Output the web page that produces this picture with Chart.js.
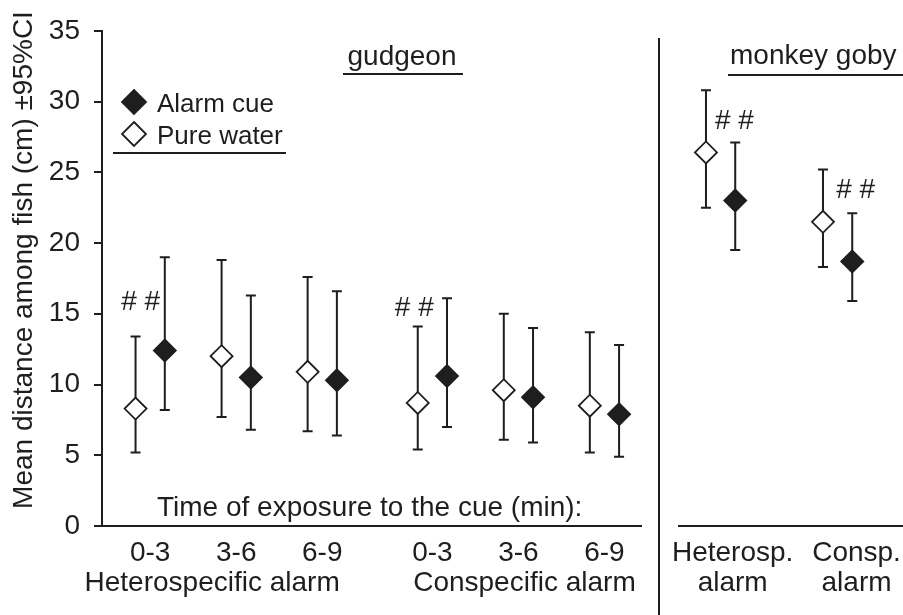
<!DOCTYPE html>
<html>
<head>
<meta charset="utf-8">
<script src="https://cdn.jsdelivr.net/npm/chart.js@4.4.1/dist/chart.umd.min.js"></script>
<style>
  html, body { margin: 0; padding: 0; background: #fff; }
  #wrap { width: 903px; height: 615px; position: relative; }
</style>
</head>
<body>
<div id="wrap"><canvas id="fishChart"></canvas></div>
<script>
// values (cm, mean and 95% CI)
const tickLabels = ['0-3', '3-6', '6-9', '0-3', '3-6', '6-9', 'Heterosp.', 'Consp.'];
const groupLabels = ['Heterospecific alarm', 'Conspecific alarm', 'alarm', 'alarm'];

const alarmMean = [12.4, 10.5, 10.3, 10.6, 9.1, 7.9, 23.0, 18.7];
const alarmLow = [8.2, 6.8, 6.4, 7.0, 5.9, 4.9, 19.5, 15.9];
const alarmHigh = [19.0, 16.3, 16.6, 16.1, 14.0, 12.8, 27.1, 22.1];

const pureMean = [8.3, 12.0, 10.9, 8.7, 9.6, 8.5, 26.4, 21.5];
const pureLow = [5.2, 7.7, 6.7, 5.4, 6.1, 5.2, 22.5, 18.3];
const pureHigh = [13.4, 18.8, 17.6, 14.1, 15.0, 13.7, 30.8, 25.2];

// positions of groups / labels on the x scale
const groupX = [1, 2, 3, 4.28, 5.28, 6.28, 7.63, 8.99];
const tickX = [1, 2, 3, 4.28, 5.28, 6.28, 7.77, 9.21];
const groupLabelX = [1.72, 5.35, 7.77, 9.21];
const pairOffset = 0.17;

const INK = '#1e1e1e';
const FONT = '"Liberation Sans", Arial, Helvetica, sans-serif';

const errorBars = {
  id: 'errorBars',
  beforeDatasetsDraw(chart) {
    const ctx = chart.ctx;
    const xs = chart.scales.x;
    const ys = chart.scales.y;
    const series = [
      { lo: pureLow, hi: pureHigh, off: -pairOffset },
      { lo: alarmLow, hi: alarmHigh, off: pairOffset },
    ];
    ctx.save();
    ctx.strokeStyle = INK;
    ctx.lineWidth = 2;
    series.forEach(s => {
      groupX.forEach((g, i) => {
        const px = xs.getPixelForValue(g + s.off);
        const top = ys.getPixelForValue(s.hi[i]);
        const bot = ys.getPixelForValue(s.lo[i]);
        ctx.beginPath();
        ctx.moveTo(px, top);
        ctx.lineTo(px, bot);
        ctx.moveTo(px - 5, top);
        ctx.lineTo(px + 5, top);
        ctx.moveTo(px - 5, bot);
        ctx.lineTo(px + 5, bot);
        ctx.stroke();
      });
    });
    ctx.restore();
  }
};

function diamond(ctx, x, y, r, filled) {
  ctx.beginPath();
  ctx.moveTo(x, y - r);
  ctx.lineTo(x + r, y);
  ctx.lineTo(x, y + r);
  ctx.lineTo(x - r, y);
  ctx.closePath();
  ctx.fillStyle = filled ? INK : '#fff';
  ctx.fill();
  ctx.lineWidth = 1.8;
  ctx.strokeStyle = INK;
  ctx.stroke();
}

const decorations = {
  id: 'decorations',
  afterDraw(chart) {
    const ctx = chart.ctx;
    const xs = chart.scales.x;
    const ys = chart.scales.y;
    const bottom = chart.chartArea.bottom;
    ctx.save();
    ctx.strokeStyle = INK;
    ctx.fillStyle = INK;
    ctx.lineWidth = 2;

    const line = (x1, y1, x2, y2) => {
      ctx.beginPath();
      ctx.moveTo(x1, y1);
      ctx.lineTo(x2, y2);
      ctx.stroke();
    };

    // base lines of both panels and the divider
    line(94, bottom, 642, bottom);
    line(678, bottom, 903, bottom);
    line(659, 38, 659, 615);

    // y axis title
    ctx.font = '28px ' + FONT;
    ctx.save();
    ctx.translate(32, 260);
    ctx.rotate(-Math.PI / 2);
    ctx.textAlign = 'center';
    ctx.textBaseline = 'alphabetic';
    ctx.fillText('Mean distance among fish (cm) ±95%CI', 0, 0);
    ctx.restore();

    // panel titles
    ctx.textBaseline = 'alphabetic';
    ctx.textAlign = 'center';
    ctx.fillText('gudgeon', 402, 65);
    line(343, 74, 463, 74);
    ctx.textAlign = 'left';
    ctx.fillText('monkey goby', 730, 64);
    line(728, 75, 903, 75);

    ctx.fillText('Time of exposure to the cue (min):', 157, 516);

    // significance marks
    ctx.textAlign = 'center';
    ctx.textBaseline = 'middle';
    [[0.89, 15.8], [4.07, 15.4], [7.79, 28.6], [9.2, 23.7]].forEach(m => {
      ctx.fillText('# #', xs.getPixelForValue(m[0]), ys.getPixelForValue(m[1]));
    });

    // legend
    diamond(ctx, 134, 102, 12, true);
    diamond(ctx, 134, 134, 12, false);
    ctx.fillStyle = INK;
    ctx.font = '26px ' + FONT;
    ctx.textAlign = 'left';
    ctx.textBaseline = 'alphabetic';
    ctx.fillText('Alarm cue', 157, 112);
    ctx.fillText('Pure water', 157, 144);
    line(113, 153, 286, 153);
    ctx.restore();
  }
};

const xCommon = {
  type: 'linear',
  position: 'bottom',
  min: 0.44,
  max: 9.75,
  grid: { display: false, drawTicks: false },
  border: { display: false },
};

new Chart(document.getElementById('fishChart'), {
  type: 'scatter',
  data: {
    datasets: [
      {
        label: 'Alarm cue',
        data: alarmMean.map((v, i) => ({ x: groupX[i] + pairOffset, y: v })),
        pointStyle: 'rectRot',
        pointRadius: 11,
        pointHoverRadius: 11,
        backgroundColor: INK,
        borderColor: INK,
        borderWidth: 1.8,
      },
      {
        label: 'Pure water',
        data: pureMean.map((v, i) => ({ x: groupX[i] - pairOffset, y: v })),
        pointStyle: 'rectRot',
        pointRadius: 11,
        pointHoverRadius: 11,
        backgroundColor: '#fff',
        borderColor: INK,
        borderWidth: 1.8,
      },
    ],
  },
  options: {
    responsive: true,
    maintainAspectRatio: false,
    animation: false,
    layout: {
      autoPadding: false,
      padding: { top: 24, right: 0, bottom: 0, left: 0 },
    },
    plugins: {
      legend: { display: false },
      tooltip: { enabled: false },
    },
    scales: {
      x: {
        ...xCommon,
        afterBuildTicks: scale => {
          scale.ticks = tickX.map(v => ({ value: v }));
        },
        afterFit: scale => {
          scale.height = 42;
          scale.paddingLeft = 0;
          scale.paddingRight = 0;
        },
        ticks: {
          autoSkip: false,
          maxRotation: 0,
          padding: 10,
          color: INK,
          font: { family: FONT, size: 28 },
          callback: (v, i) => tickLabels[i],
        },
      },
      x2: {
        ...xCommon,
        afterBuildTicks: scale => {
          scale.ticks = groupLabelX.map(v => ({ value: v }));
        },
        afterFit: scale => {
          scale.height = 47;
          scale.paddingLeft = 0;
          scale.paddingRight = 0;
        },
        ticks: {
          autoSkip: false,
          maxRotation: 0,
          padding: -2,
          color: INK,
          font: { family: FONT, size: 28 },
          callback: (v, i) => groupLabels[i],
        },
      },
      y: {
        min: 0,
        max: 35,
        afterFit: scale => { scale.width = 102; },
        ticks: {
          stepSize: 5,
          padding: 14,
          color: INK,
          font: { family: FONT, size: 28 },
        },
        grid: {
          display: true,
          drawOnChartArea: false,
          drawTicks: true,
          tickLength: 8,
          color: INK,
          lineWidth: 2,
        },
        border: { display: true, color: INK, width: 2 },
      },
    },
  },
  plugins: [errorBars, decorations],
});
</script>
</body>
</html>
